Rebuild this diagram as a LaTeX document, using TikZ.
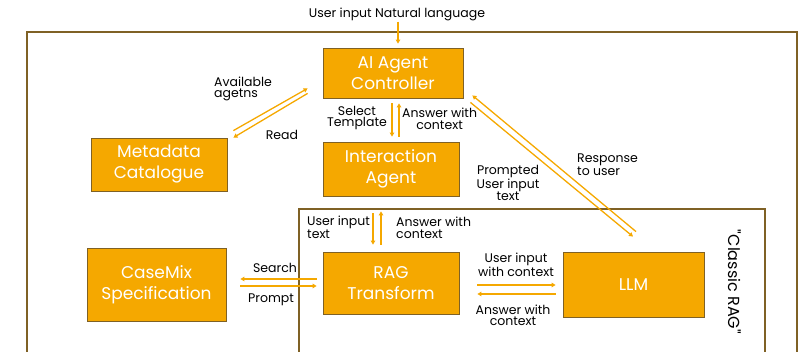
\documentclass[tikz,border=0pt]{standalone}
\usepackage{fontspec}
\setmainfont{Poppins}
\newfontfamily\rawfont{Poppins}
\usetikzlibrary{arrows.meta, positioning, calc}

\definecolor{boxorange}{HTML}{F5A800}
\definecolor{framebrown}{HTML}{7F6125}

\begin{document}
\begin{tikzpicture}[
    x=1pt, y=1pt,
    % Component: orange filled box with white text
    comp/.style={
        rectangle, draw=framebrown, fill=boxorange, line width=0.8pt,
        text=white, align=center, inner sep=0pt,
        font=\fontsize{17}{21}\selectfont
    },
    % Small black annotation
    lbl/.style={
        font=\fontsize{12.5}{11.5}\selectfont, inner sep=0pt, text=black
    },
    % Orange arrow
    arr/.style={
        draw=boxorange, line width=1.3pt,
        -{Triangle[length=4pt, width=4.5pt]}
    },
    % Frame lines
    frame/.style={draw=framebrown, line width=1.1pt},
]

\useasboundingbox (0,0) rectangle (805,352);

% ============================================================
% FRAMES
% ============================================================
\draw[frame] (27,0) -- (27,320) -- (797,320) -- (797,0);
\draw[frame] (299,0) -- (299,143) -- (765,143) -- (765,0);
\node[lbl, font=\rawfont\fontsize{16}{16}\selectfont, rotate=-90] (classic) at (735,70) {"Classic RAG"};

% ============================================================
% COMPONENTS
% ============================================================
\node[lbl] (user) at (397,338) {User input Natural language};

\node[comp, minimum width=140, minimum height=50] (ctrl)  at (393,279)   {AI Agent\\Controller};
\node[comp, minimum width=136, minimum height=54] (inter) at (391,183)   {Interaction\\Agent};
\node[comp, minimum width=136, minimum height=53] (meta)  at (159,187.5) {Metadata\\Catalogue};
\node[comp, minimum width=139, minimum height=73] (case)  at (156.5,67.5){CaseMix\\Specification};
\node[comp, minimum width=136, minimum height=62] (rag)   at (391,69)    {RAG\\Transform};
\node[comp, minimum width=141, minimum height=65] (llm)   at (633.5,67.5){LLM};

% ============================================================
% ARROWS
% ============================================================

% user input into controller
\draw[arr, shorten >=4pt, shorten <=1pt] (user.south -| ctrl.north) ++(5,0) coordinate (u1) -- (u1 |- ctrl.north);

% controller <-> metadata catalogue
\draw[arr] ([shift={(6,7)}]meta.north east) -- ([shift={(-15,10)}]ctrl.south west);
\draw[arr] ([shift={(-15,5)}]ctrl.south west) -- ([shift={(6,0)}]meta.north east);
\node[lbl, align=left, anchor=west] (avail) at (214,263) {Available\\agetns};
\node[lbl] (read) at (282,217) {Read};

% controller <-> interaction agent
\draw[arr, shorten <=5pt, shorten >=5pt] ([xshift=-1]ctrl.south) -- ([xshift=-1]ctrl.south |- inter.north);
\draw[arr, shorten <=5pt, shorten >=5pt] ([xshift=6]ctrl.south |- inter.north) -- ([xshift=6]ctrl.south);
\node[lbl, align=center, anchor=east] (selt) at (387,234) {Select\\Template};
\node[lbl, align=center, anchor=west] (ansc1) at (402,233) {Answer with\\context};

% controller <-> LLM
\draw[arr] ([shift={(2.5,20)}]llm.north) -- ([shift={(9,3)}]ctrl.south east);
\draw[arr] ([shift={(7,-4)}]ctrl.south east) -- ([shift={(-0.5,15)}]llm.north);
\node[lbl, align=center] (prompted) at (508,169) {Prompted\\User input\\text};
\node[lbl, align=left, anchor=west] (resp) at (577,187.5) {Response\\to user};

% interaction agent <-> RAG transform
\draw[arr, shorten <=17pt, shorten >=7pt] ([xshift=-18]inter.south) -- ([xshift=-18]inter.south |- rag.north);
\draw[arr, shorten <=7pt, shorten >=15pt] ([xshift=-10]inter.south |- rag.north) -- ([xshift=-10]inter.south);
\node[lbl, align=left, anchor=west] (uit) at (307,125) {User input\\text};
\node[lbl, align=left, anchor=west] (ansc2) at (396,124) {Answer with\\context};

% RAG transform <-> CaseMix specification
\draw[arr, shorten <=6pt, shorten >=14pt] ([yshift=4]rag.west) -- ([yshift=4]rag.west -| case.east);
\draw[arr, shorten <=14pt, shorten >=6pt] ([yshift=-3]rag.west -| case.east) -- ([yshift=-3]rag.west);
\node[lbl] (search) at (275,84) {Search};
\node[lbl] (prompt) at (271,52) {Prompt};

% RAG transform <-> LLM
\draw[arr, shorten <=18pt, shorten >=7pt] ([yshift=-2]rag.east) -- ([yshift=-2]rag.east -| llm.west);
\draw[arr, shorten <=7pt, shorten >=18pt] ([yshift=-11]rag.east -| llm.west) -- ([yshift=-11]rag.east);
\node[lbl, align=center] (uiwc) at (516,87.5) {User input\\with context};
\node[lbl, align=center] (ansc3) at (513,36.5) {Answer with\\context};

\end{tikzpicture}
\end{document}
